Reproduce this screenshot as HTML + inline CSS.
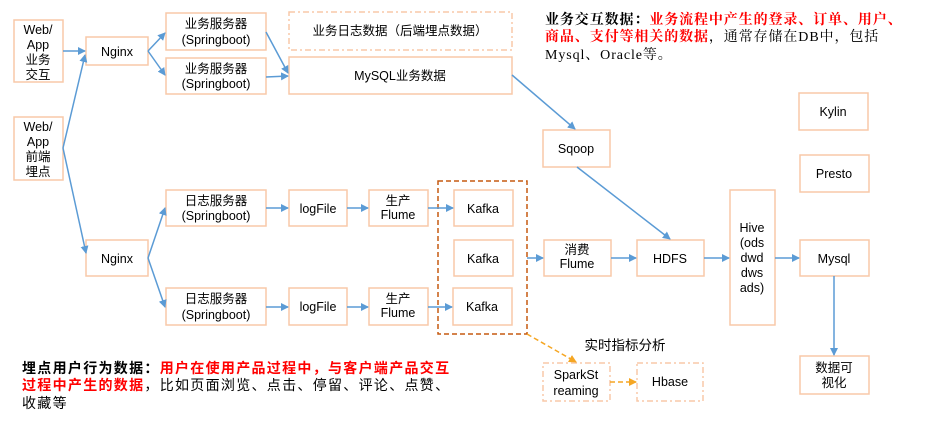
<!DOCTYPE html>
<html><head><meta charset="utf-8"><style>
body{margin:0;background:#fff}
svg text{font-family:"Liberation Sans","Noto Sans CJK SC",sans-serif;font-size:12.5px;fill:#000}
</style></head><body>
<svg width="952" height="422" viewBox="0 0 952 422" xmlns="http://www.w3.org/2000/svg">
<defs>
<marker id="a" markerWidth="8" markerHeight="8" refX="7" refY="4" orient="auto" markerUnits="userSpaceOnUse"><path d="M0,0 L8,4 L0,8 z" fill="#5b9bd5"/></marker>
<marker id="o" markerWidth="8" markerHeight="8" refX="7" refY="4" orient="auto" markerUnits="userSpaceOnUse"><path d="M0,0 L8,4 L0,8 z" fill="#f5a623"/></marker>
</defs>
<g fill="#fff" stroke="#f8c9a8" stroke-width="1.5">
<rect x="14" y="20" width="49" height="62"/>
<rect x="14" y="117" width="49" height="63"/>
<rect x="86" y="37" width="62" height="28"/>
<rect x="166" y="13" width="100" height="37"/>
<rect x="166" y="58" width="100" height="36"/>
<rect x="289" y="57" width="223" height="37"/>
<rect x="543" y="130" width="67" height="37"/>
<rect x="799" y="93" width="69" height="37"/>
<rect x="800" y="155" width="69" height="37"/>
<rect x="166" y="190" width="100" height="36"/>
<rect x="86" y="240" width="62" height="36"/>
<rect x="166" y="288" width="100" height="37"/>
<rect x="289" y="190" width="58" height="36"/>
<rect x="289" y="288" width="58" height="37"/>
<rect x="369" y="190" width="59" height="36"/>
<rect x="369" y="288" width="59" height="37"/>
<rect x="454" y="190" width="59" height="36"/>
<rect x="454" y="240" width="59" height="36"/>
<rect x="453" y="288" width="59" height="37"/>
<rect x="544" y="240" width="67" height="36"/>
<rect x="637" y="240" width="67" height="36"/>
<rect x="730" y="190" width="45" height="135"/>
<rect x="800" y="240" width="69" height="36"/>
<rect x="800" y="356" width="69" height="38"/>
</g>
<rect x="289" y="12" width="223" height="38" fill="none" stroke="#f8c9a8" stroke-width="1.5" stroke-dasharray="6,3,2,3"/>
<rect x="543" y="363" width="67" height="38" fill="none" stroke="#f8c9a8" stroke-width="1.5" stroke-dasharray="6,3,2,3"/>
<rect x="637" y="363" width="66" height="38" fill="none" stroke="#f8c9a8" stroke-width="1.5" stroke-dasharray="6,3,2,3"/>
<rect x="438" y="181" width="89" height="153" fill="none" stroke="#c55a11" stroke-width="1.5" stroke-dasharray="5,3"/>
<g stroke="#5b9bd5" stroke-width="1.5" fill="none" marker-end="url(#a)">
<line x1="63" y1="51" x2="85" y2="51"/>
<polyline points="63,148 85,55"/>
<line x1="63" y1="148" x2="86" y2="253"/>
<line x1="148" y1="51" x2="165" y2="33"/>
<line x1="148" y1="51" x2="165" y2="75"/>
<line x1="266" y1="32" x2="288" y2="73"/>
<line x1="266" y1="77" x2="288" y2="76"/>
<line x1="512" y1="75" x2="575" y2="129"/>
<line x1="577" y1="167" x2="670" y2="239"/>
<line x1="148" y1="258" x2="165" y2="208"/>
<line x1="148" y1="258" x2="165" y2="307"/>
<line x1="266" y1="208" x2="288" y2="208"/>
<line x1="266" y1="307" x2="288" y2="307"/>
<line x1="347" y1="208" x2="368" y2="208"/>
<line x1="347" y1="307" x2="368" y2="307"/>
<line x1="428" y1="208" x2="453" y2="208"/>
<line x1="428" y1="307" x2="452" y2="307"/>
<line x1="527" y1="258" x2="543" y2="258"/>
<line x1="611" y1="258" x2="636" y2="258"/>
<line x1="704" y1="258" x2="729" y2="258"/>
<line x1="775" y1="258" x2="799" y2="258"/>
<line x1="834" y1="276" x2="834" y2="355"/>
</g>
<g stroke="#f5a623" stroke-width="1.5" fill="none" stroke-dasharray="5,3" marker-end="url(#o)">
<line x1="527" y1="334" x2="576" y2="362"/>
<line x1="610" y1="382" x2="636" y2="382"/>
</g>
<g text-anchor="middle">
<text x="38" y="34">Web/</text><text x="38" y="49">App</text><text x="38" y="64">业务</text><text x="38" y="79">交互</text>
<text x="38" y="131">Web/</text><text x="38" y="146">App</text><text x="38" y="161">前端</text><text x="38" y="176">埋点</text>
<text x="117" y="56">Nginx</text>
<text x="216" y="28">业务服务器</text><text x="216" y="44">(Springboot)</text>
<text x="216" y="73">业务服务器</text><text x="216" y="88">(Springboot)</text>
<text x="400" y="35">业务日志数据（后端埋点数据）</text>
<text x="400" y="80">MySQL业务数据</text>
<text x="576" y="153">Sqoop</text>
<text x="833" y="116">Kylin</text>
<text x="834" y="178">Presto</text>
<text x="216" y="205">日志服务器</text><text x="216" y="220">(Springboot)</text>
<text x="117" y="263">Nginx</text>
<text x="216" y="303">日志服务器</text><text x="216" y="319">(Springboot)</text>
<text x="318" y="213">logFile</text><text x="318" y="311">logFile</text>
<text x="398" y="205">生产</text><text x="398" y="219">Flume</text>
<text x="398" y="303">生产</text><text x="398" y="317">Flume</text>
<text x="483" y="213">Kafka</text><text x="483" y="263">Kafka</text><text x="482" y="311">Kafka</text>
<text x="577" y="254">消费</text><text x="577" y="268">Flume</text>
<text x="670" y="263">HDFS</text>
<text x="752" y="232">Hive</text><text x="752" y="247">(ods</text><text x="752" y="262">dwd</text><text x="752" y="277">dws</text><text x="752" y="292">ads)</text>
<text x="834" y="263">Mysql</text>
<text x="834" y="372">数据可</text><text x="834" y="387">视化</text>
<text x="576" y="379">SparkSt</text><text x="576" y="395">reaming</text>
<text x="670" y="386">Hbase</text>
<text x="625" y="350" style="font-size:13.5px">实时指标分析</text>
</g>
<g style="font-family:'Liberation Serif','Noto Serif CJK SC',serif;font-size:14px;letter-spacing:0.9px">
<text x="545" y="24" style="font-family:'Liberation Serif','Noto Serif CJK SC',serif;font-size:14px"><tspan font-weight="bold">业务交互数据：</tspan><tspan font-weight="bold" fill="#ff0000">业务流程中产生的登录、订单、用户、</tspan></text>
<text x="545" y="41" style="font-family:'Liberation Serif','Noto Serif CJK SC',serif;font-size:14px"><tspan font-weight="bold" fill="#ff0000">商品、支付等相关的数据</tspan>，通常存储在DB中，包括</text>
<text x="545" y="59" style="font-family:'Liberation Serif','Noto Serif CJK SC',serif;font-size:14px">Mysql、Oracle等。</text>
</g>
<g style="letter-spacing:1.3px">
<text x="22" y="373" style="font-size:14px"><tspan font-weight="bold">埋点用户行为数据：</tspan><tspan font-weight="bold" fill="#ff0000">用户在使用产品过程中，与客户端产品交互</tspan></text>
<text x="22" y="390" style="font-size:14px"><tspan font-weight="bold" fill="#ff0000">过程中产生的数据</tspan>，比如页面浏览、点击、停留、评论、点赞、</text>
<text x="22" y="408" style="font-size:14px">收藏等</text>
</g>
</svg>
</body></html>
